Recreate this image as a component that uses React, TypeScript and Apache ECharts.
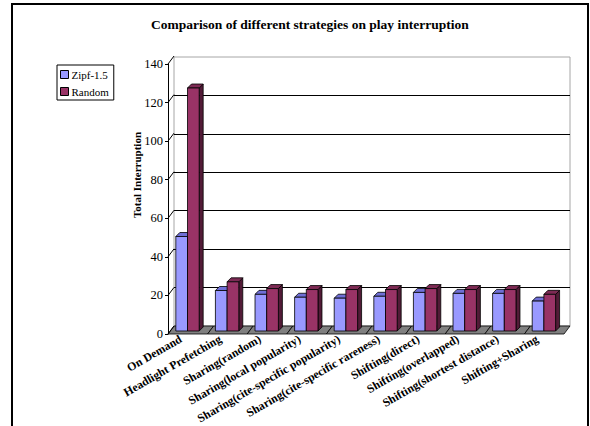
import React, { useEffect, useRef } from "react";
import * as echarts from "echarts";

// Strategies compared (x categories)
const categories = [
  "On Demand",
  "Headlight Prefetching",
  "Sharing(random)",
  "Sharing(local popularity)",
  "Sharing(cite-specific popularity)",
  "Sharing(cite-specific rareness)",
  "Shifting(direct)",
  "Shifting(overlapped)",
  "Shifting(shortest distance)",
  "Shifting+Sharing",
];

// Total interruption per strategy
const zipfValues = [49, 21, 19, 17.5, 17, 18, 20, 19.5, 19.5, 15.5];
const randomValues = [126, 25.5, 22, 21.5, 21.5, 21.5, 22, 21.5, 21.5, 19];

const seriesNames = ["Zipf-1.5", "Random"];
const yTicks = [0, 20, 40, 60, 80, 100, 120, 140];
const yMax = 140;
const yStep = 20;

const SERIF = "'Liberation Serif', 'Times New Roman', serif";

// depth of the 3-D box walls
const WALL_DX = 6;
const WALL_DY = -8;
const BAR_DX = 4;
const BAR_DY = -4;

const palette = {
  zipf: { front: "#9999ff", top: "#6f6fd6", side: "#4a4aa0" },
  random: { front: "#993366", top: "#7d2a54", side: "#521b37" },
};

function bar3D(shift: number, colors: { front: string; top: string; side: string }) {
  return (_params: any, api: any) => {
    const cat = api.value(0);
    const val = api.value(1);
    const base = api.coord([cat, 0]);
    const peak = api.coord([cat, val]);
    const band = api.size([1, 0])[0];
    const w = band * 0.295;
    const x0 = base[0] + shift * w;
    const x1 = x0 + w;
    const yb = base[1];
    const yt = peak[1];
    const edge = { stroke: "#000", lineWidth: 0.8 };
    return {
      type: "group",
      children: [
        {
          type: "polygon",
          shape: { points: [[x1, yt], [x1 + BAR_DX, yt + BAR_DY], [x1 + BAR_DX, yb + BAR_DY], [x1, yb]] },
          style: { fill: colors.side, ...edge },
        },
        {
          type: "polygon",
          shape: { points: [[x0, yt], [x1, yt], [x1 + BAR_DX, yt + BAR_DY], [x0 + BAR_DX, yt + BAR_DY]] },
          style: { fill: colors.top, ...edge },
        },
        {
          type: "rect",
          shape: { x: x0, y: yt, width: w, height: yb - yt },
          style: { fill: colors.front, ...edge },
        },
      ],
    };
  };
}

// one grey floor cell per category, receding into the back wall
function floorCell(_params: any, api: any) {
  const i = api.value(0);
  const a = api.coord([i, 0]);
  const b = api.coord([i + 1, 0]);
  return {
    type: "polygon",
    shape: {
      points: [a, b, [b[0] + WALL_DX, b[1] + WALL_DY], [a[0] + WALL_DX, a[1] + WALL_DY]],
    },
    style: { fill: "#808080", stroke: "#000", lineWidth: 0.8 },
  };
}

// slanted gridlines of the left side wall
function sideTick(_params: any, api: any) {
  const p = api.coord([0, api.value(1)]);
  return {
    type: "line",
    shape: { x1: p[0], y1: p[1], x2: p[0] + WALL_DX, y2: p[1] + WALL_DY },
    style: { stroke: "#000", lineWidth: 1 },
  };
}

export default function App() {
  const ref = useRef<HTMLDivElement>(null);

  useEffect(() => {
    if (!ref.current) return;
    const chart = echarts.init(ref.current, undefined, { renderer: "svg" });

    const frontLeft = 168;
    const plotW = 396;

    chart.setOption({
      animation: false,
      backgroundColor: "#fff",
      title: {
        text: "Comparison of different strategies on play interruption",
        left: 146,
        top: 12,
        textStyle: { fontFamily: SERIF, fontSize: 13.5, fontWeight: "bold", color: "#000" },
      },
      legend: {
        data: seriesNames.map((n) => ({ name: n, icon: "rect", itemStyle: { borderColor: "#000", borderWidth: 1 } })),
        orient: "vertical",
        left: 57,
        top: 65,
        padding: [4, 5, 3, 3],
        itemWidth: 8,
        itemHeight: 8,
        itemGap: 6,
        borderColor: "#000",
        borderWidth: 1,
        backgroundColor: "#fff",
        textStyle: { fontFamily: SERIF, fontSize: 11, color: "#000", padding: [0, 0, 0, -2] },
        selectedMode: false,
      },
      grid: [
        // bars
        { left: frontLeft - 0.3, top: 61, width: plotW, height: 270 },
        // front plane: value axis, floor, side wall
        { left: frontLeft, top: 64, width: plotW, height: 270 },
        // back wall
        {
          left: frontLeft + WALL_DX,
          top: 64 + WALL_DY + 1,
          width: plotW,
          height: 269,
          show: true,
          backgroundColor: "#fff",
          borderColor: "#a6a6a6",
          borderWidth: 1,
        },
        // category labels
        { left: frontLeft - 7, top: 61, width: plotW, height: 270 },
      ],
      xAxis: [
        { gridIndex: 0, type: "category", data: categories, show: false },
        { gridIndex: 1, type: "value", min: 0, max: categories.length, show: false },
        { gridIndex: 2, type: "value", min: 0, max: 1, show: false },
        {
          gridIndex: 3,
          type: "category",
          data: categories,
          axisLine: { show: false },
          axisTick: { show: false },
          axisLabel: {
            interval: 0,
            rotate: 30,
            margin: 7,
            fontFamily: SERIF,
            fontSize: 11.8,
            fontWeight: "bold",
            color: "#000",
          },
        },
      ],
      yAxis: [
        { gridIndex: 0, type: "value", min: 0, max: yMax, interval: yStep, show: false },
        {
          gridIndex: 1,
          type: "value",
          min: 0,
          max: yMax,
          interval: yStep,
          axisLine: { show: true, lineStyle: { color: "#000", width: 1 } },
          axisTick: { show: true, length: 3, lineStyle: { color: "#000" } },
          axisLabel: { margin: 5, fontFamily: SERIF, fontSize: 12.5, color: "#000" },
          splitLine: { show: false },
        },
        {
          gridIndex: 2,
          type: "value",
          min: 0,
          max: yMax,
          interval: yStep,
          axisLine: { show: false },
          axisTick: { show: false },
          axisLabel: { show: false },
          splitLine: { show: true, showMinLine: false, showMaxLine: false, lineStyle: { color: "#000", width: 1 } },
        },
        { gridIndex: 3, type: "value", min: 0, max: yMax, show: false },
      ],
      series: [
        {
          type: "custom",
          name: "floor",
          xAxisIndex: 1,
          yAxisIndex: 1,
          z: 1,
          silent: true,
          renderItem: floorCell,
          data: categories.map((_, i) => [i, 0]),
        },
        {
          type: "custom",
          name: "sideWall",
          xAxisIndex: 1,
          yAxisIndex: 1,
          z: 1,
          silent: true,
          renderItem: sideTick,
          data: yTicks.map((v) => [0, v]),
        },
        {
          type: "custom",
          name: seriesNames[0],
          xAxisIndex: 0,
          yAxisIndex: 0,
          z: 3,
          itemStyle: { color: palette.zipf.front },
          renderItem: bar3D(-1, palette.zipf),
          data: zipfValues.map((v, i) => [i, v]),
        },
        {
          type: "custom",
          name: seriesNames[1],
          xAxisIndex: 0,
          yAxisIndex: 0,
          z: 4,
          itemStyle: { color: palette.random.front },
          renderItem: bar3D(0, palette.random),
          data: randomValues.map((v, i) => [i, v]),
        },
      ],
      graphic: [
        {
          type: "rect",
          z: 100,
          silent: true,
          shape: { x: 12, y: 4, width: 576, height: 440 },
          style: { fill: "none", stroke: "#000", lineWidth: 2 },
        },
        {
          type: "text",
          x: 137,
          y: 175,
          rotation: Math.PI / 2,
          style: {
            text: "Total Interruption",
            fontFamily: SERIF,
            fontSize: 11,
            fontWeight: "bold",
            fill: "#000",
            align: "center",
            verticalAlign: "middle",
          },
        },
      ],
    });

    return () => chart.dispose();
  }, []);

  return <div ref={ref} style={{ position: "absolute", left: 0, top: 0, width: 590, height: 426 }} />;
}
